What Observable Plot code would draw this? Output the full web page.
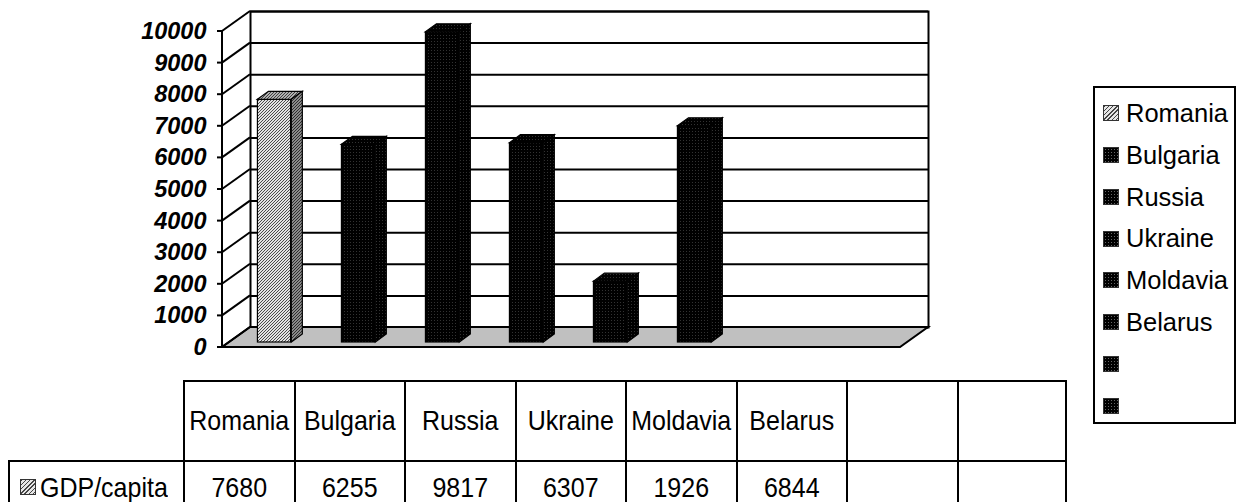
<!DOCTYPE html>
<html>
<head>
<meta charset="utf-8">
<script src="https://cdn.jsdelivr.net/npm/d3@7"></script>
<script src="https://cdn.jsdelivr.net/npm/@observablehq/plot@0.6"></script>
<style>
  html, body { margin: 0; padding: 0; background: #fff; }
  #wrap { position: relative; width: 1245px; height: 502px; overflow: hidden; font-family: "Liberation Sans", Arial, sans-serif; color: #000; }
  #chart { position: absolute; left: 0; top: 0; }
  .cell { position: absolute; box-sizing: border-box; text-align: center; font-size: 25px; line-height: 26px; white-space: nowrap; }
  .cell .t { display: inline-block; transform: scaleY(1.13); }
  .legend { position: absolute; left: 1093px; top: 86px; width: 143px; height: 338px; box-sizing: border-box; border: 2px solid #000; background: #fff; }
  .item { position: absolute; left: 8px; height: 30px; font-size: 25.5px; line-height: 30px; white-space: nowrap; }
  .sw { display: inline-block; width: 16px; height: 16px; border: 1.5px solid #333; vertical-align: middle; margin-right: 7px; position: relative; top: -2px; box-sizing: border-box; }
  .hatch { background: repeating-linear-gradient(135deg, #444 0 1px, #e6e6e6 1px 3px); }
  .dots { background-color: #000; background-image: radial-gradient(#666 0.6px, transparent 0.8px); background-size: 3px 3px; }
</style>
</head>
<body>
<div id="wrap"><div id="chart"></div></div>
<script>
// ---- data ----
const countries = ["Romania", "Bulgaria", "Russia", "Ukraine", "Moldavia", "Belarus"];
const blankSlots = ["", " "];
const gdp = [7680, 6255, 9817, 6307, 1926, 6844];
const seriesName = "GDP/capita";
const yTicks = [0, 1000, 2000, 3000, 4000, 5000, 6000, 7000, 8000, 9000, 10000];

const slots = [...countries, ...blankSlots];
const rows = countries.map((c, i) => ({country: c, gdp: gdp[i]}));

// ---- 3D geometry ----
const W = 1245, H = 370;
const mL = 222, mR = 345, mT = 31, mB = 23;
const DX = 28, DY = -20;          // wall depth
const fDX = 7, fDY = -5;          // bar front offset
const bDX = 11, bDY = -8;         // bar depth
const band = (W - mL - mR) / slots.length;
const barW = band / 2.5;
const inset = (band - barW) / 2;

function floorAndWalls(index, scales, values, dim) {
  const {y} = scales;
  const g = d3.create("svg:g");
  const x0 = dim.marginLeft, x1 = dim.width - dim.marginRight, y0 = y(0);
  g.append("path")
    .attr("d", `M${x0},${y0}L${x1},${y0}L${x1 + DX},${y0 + DY}L${x0 + DX},${y0 + DY}Z`)
    .attr("fill", "#c0c0c0").attr("stroke", "#000").attr("stroke-width", 2);
  for (const t of yTicks) {
    g.append("line").attr("x1", x0).attr("y1", y(t)).attr("x2", x0 + DX).attr("y2", y(t) + DY)
      .attr("stroke", "#000").attr("stroke-width", 2);
    g.append("line").attr("x1", x0 - 5).attr("y1", y(t)).attr("x2", x0).attr("y2", y(t))
      .attr("stroke", "#000").attr("stroke-width", 2);
  }
  g.append("line").attr("x1", x0).attr("y1", y(0)).attr("x2", x0).attr("y2", y(yTicks[yTicks.length - 1]))
    .attr("stroke", "#000").attr("stroke-width", 2);
  return g.node();
}

function barSides(index, scales, values, dim) {
  const {x, y} = scales;
  const g = d3.create("svg:g");
  rows.forEach((r, i) => {
    const xl = x(r.country) + inset + fDX;
    const xr = xl + barW;
    const yt = y(r.gdp) + fDY;
    const yb = y(0) + fDY;
    const light = i === 0;
    g.append("path")
      .attr("d", `M${xl},${yt}L${xl + bDX},${yt + bDY}L${xr + bDX},${yt + bDY}L${xr},${yt}Z`)
      .attr("fill", light ? "url(#hatchTop)" : "url(#dots)").attr("stroke", "#000").attr("stroke-width", 1.2);
    g.append("path")
      .attr("d", `M${xr},${yt}L${xr + bDX},${yt + bDY}L${xr + bDX},${yb + bDY}L${xr},${yb}Z`)
      .attr("fill", light ? "url(#hatchSide)" : "url(#dots)").attr("stroke", "#000").attr("stroke-width", 1.2);
  });
  return g.node();
}

const chart = Plot.plot({
  width: W, height: H,
  marginLeft: mL, marginRight: mR, marginTop: mT, marginBottom: mB,
  x: {type: "band", domain: slots, padding: 0, axis: null},
  y: {domain: [0, 10000], axis: null},
  style: {background: "transparent", overflow: "visible"},
  marks: [
    Plot.frame({fill: "white", stroke: "black", strokeWidth: 2, dx: DX, dy: DY}),
    Plot.ruleY(yTicks, {dx: DX, dy: DY, stroke: "black", strokeWidth: 2}),
    floorAndWalls,
    Plot.barY(rows, {filter: d => d.country === "Romania", x: "country", y: "gdp", insetLeft: inset, insetRight: inset, dx: fDX, dy: fDY, fill: "url(#hatchFront)", stroke: "black", strokeWidth: 1.2}),
    Plot.barY(rows, {filter: d => d.country !== "Romania", x: "country", y: "gdp", insetLeft: inset, insetRight: inset, dx: fDX, dy: fDY, fill: "url(#dots)", stroke: "black", strokeWidth: 1.2}),
    barSides,
    Plot.text(yTicks, {y: d => d, text: d => String(d), frameAnchor: "left", textAnchor: "end", dx: -16,
      fontSize: 23.5, fontWeight: "bold", fontStyle: "italic", fontFamily: "Liberation Sans, Arial, sans-serif", fill: "black"})
  ]
});

// patterns
const defs = d3.select(chart).insert("defs", ":first-child");
function hatch(id, bg, fg) {
  const p = defs.append("pattern").attr("id", id).attr("patternUnits", "userSpaceOnUse").attr("width", 3).attr("height", 3);
  p.append("rect").attr("width", 3).attr("height", 3).attr("fill", bg);
  p.append("path").attr("d", "M-1,1L1,-1M0,3L3,0M2,4L4,2").attr("stroke", fg).attr("stroke-width", 0.9);
}
hatch("hatchFront", "#e4e4e4", "#3a3a3a");
hatch("hatchSide", "#8a8a8a", "#222");
hatch("hatchTop", "#b0b0b0", "#333");
const dp = defs.append("pattern").attr("id", "dots").attr("patternUnits", "userSpaceOnUse").attr("width", 3).attr("height", 3);
dp.append("rect").attr("width", 3).attr("height", 3).attr("fill", "#000");
dp.append("rect").attr("x", 1).attr("y", 1).attr("width", 0.7).attr("height", 0.7).attr("fill", "#666");

document.getElementById("chart").appendChild(chart);

// ---- data table ----
const wrap = document.getElementById("wrap");
const colL = 183, colW = 110.5, rowT = 380, rowH = 80, row2H = 42;
function cell(left, top, width, height, html, extra) {
  const d = document.createElement("div");
  d.className = "cell";
  Object.assign(d.style, {left: left + "px", top: top + "px", width: width + "px", height: height + "px"}, extra || {});
  d.innerHTML = html;
  wrap.appendChild(d);
  return d;
}
slots.forEach((s, i) => {
  const left = colL + i * colW;
  const last = i === slots.length - 1;
  const b = {borderLeft: "2px solid #000", borderTop: "2px solid #000", borderRight: last ? "2px solid #000" : "none", paddingTop: "25px"};
  cell(left, rowT, colW, rowH, `<span class="t">${s.trim()}</span>`, b);
  const v = i < gdp.length ? String(gdp[i]) : "";
  cell(left, rowT + rowH, colW, row2H, `<span class="t">${v}</span>`, {borderLeft: "2px solid #000", borderTop: "2px solid #000", borderRight: last ? "2px solid #000" : "none", paddingTop: "12px"});
});
cell(8, rowT + rowH, colL - 8, row2H,
  `<span class="sw hatch" style="width:16px;height:16px;margin-right:4px"></span><span class="t">${seriesName}</span>`,
  {borderLeft: "2px solid #000", borderTop: "2px solid #000", paddingTop: "12px", textAlign: "left", paddingLeft: "10px"});

// ---- legend ----
const leg = document.createElement("div");
leg.className = "legend";
wrap.appendChild(leg);
slots.forEach((s, i) => {
  const it = document.createElement("div");
  it.className = "item";
  it.style.top = (10 + i * 41.8) + "px";
  it.innerHTML = `<span class="sw ${i === 0 ? "hatch" : "dots"}"></span>${s.trim()}`;
  leg.appendChild(it);
});
</script>
</body>
</html>
